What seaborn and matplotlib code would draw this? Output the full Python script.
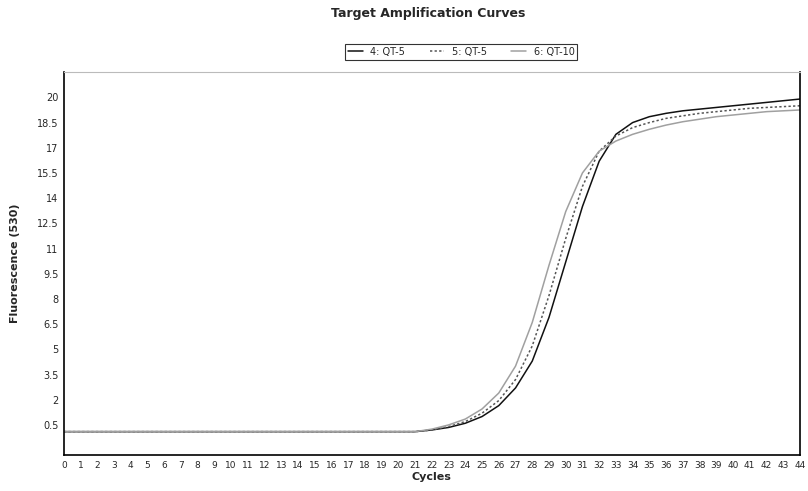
import numpy as np
import pandas as pd
import matplotlib
matplotlib.use("Agg")
import matplotlib.pyplot as plt
import seaborn as sns

cycles = list(range(0, 45))
series_names = ["4: QT-5", "5: QT-5", "6: QT-10"]

base = [0.1] * 22
qt5_a = base + [0.2, 0.35, 0.6, 1.0, 1.65, 2.7, 4.3, 6.9, 10.2, 13.5, 16.2, 17.8, 18.5,
                18.85, 19.05, 19.2, 19.3, 19.4, 19.5, 19.6, 19.7, 19.8, 19.9]
qt5_b = base + [0.2, 0.4, 0.7, 1.2, 1.95, 3.2, 5.2, 8.2, 11.6, 14.7, 16.8, 17.7, 18.2,
                18.5, 18.75, 18.9, 19.05, 19.15, 19.25, 19.35, 19.4, 19.45, 19.5]
qt10 = base + [0.25, 0.5, 0.85, 1.45, 2.4, 4.0, 6.6, 10.0, 13.2, 15.5, 16.8, 17.4, 17.8,
               18.1, 18.35, 18.55, 18.7, 18.85, 18.95, 19.05, 19.15, 19.2, 19.25]

y_ticks = [0.5, 2, 3.5, 5, 6.5, 8, 9.5, 11, 12.5, 14, 15.5, 17, 18.5, 20]

df = pd.DataFrame({
    "Cycles": cycles * 3,
    "Fluorescence": qt5_a + qt5_b + qt10,
    "Sample": [series_names[0]] * 45 + [series_names[1]] * 45 + [series_names[2]] * 45,
})

sns.set_style("white")
plt.rcParams["font.family"] = ["DejaVu Sans"]

fig = plt.figure(figsize=(8.08, 4.91), dpi=100)
ax = fig.add_axes([0.079, 0.073, 0.911, 0.78])

palette = {series_names[0]: "#111111", series_names[1]: "#555555", series_names[2]: "#a0a0a0"}
dashes = {series_names[0]: "", series_names[1]: (1.5, 1.5), series_names[2]: ""}
sns.lineplot(data=df, x="Cycles", y="Fluorescence", hue="Sample", style="Sample",
             palette=palette, dashes=dashes, linewidth=1.1, ax=ax)

ax.set_xlim(0, 44)
ax.set_ylim(-1.3, 21.5)
ax.set_xticks(cycles)
ax.set_xticklabels([str(c) for c in cycles], fontsize=6.5)
ax.set_yticks(y_ticks)
ax.set_yticklabels([f"{t:g}" for t in y_ticks], fontsize=7)
ax.tick_params(axis="both", length=2, pad=2)
ax.set_xlabel("Cycles", fontsize=8, fontweight="bold", labelpad=2)
ax.set_ylabel("Fluorescence (530)", fontsize=8, fontweight="bold", labelpad=12)

for side in ["left", "bottom", "right"]:
    ax.spines[side].set_color("black")
    ax.spines[side].set_linewidth(1.2)
ax.spines["top"].set_color("#bbbbbb")

fig.suptitle("Target Amplification Curves", fontsize=9, fontweight="bold", x=0.53, y=0.985)

leg = ax.legend(loc="lower center", bbox_to_anchor=(0.54, 1.02), ncol=3, fontsize=7,
                frameon=True, fancybox=False, edgecolor="black", handlelength=1.5,
                columnspacing=2.5, borderpad=0.3)
leg.get_frame().set_linewidth(0.8)

fig.savefig("out.png", dpi=100)
